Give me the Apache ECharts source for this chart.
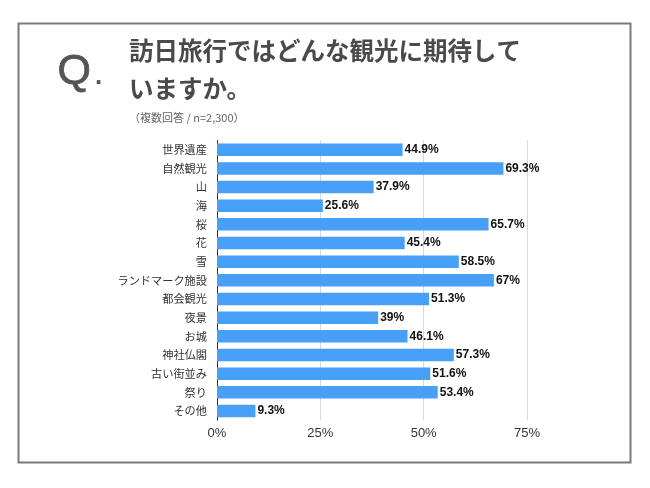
<!DOCTYPE html>
<html><head><meta charset="utf-8">
<script src="https://cdn.jsdelivr.net/npm/echarts@6/dist/echarts.min.js"></script>
<style>html,body{margin:0;padding:0;background:#fff}#c{width:650px;height:488px}</style>
</head><body><div id="c"></div>
<script>
var categories = ['世界遺産','自然観光','山','海','桜','花','雪','ランドマーク施設','都会観光','夜景','お城','神社仏閣','古い街並み','祭り','その他'];
var values = [44.9,69.3,37.9,25.6,65.7,45.4,58.5,67,51.3,39,46.1,57.3,51.6,53.4,9.3];
var xTicks = [0,25,50,75];
var titleLine1 = '訪日旅行ではどんな観光に期待して';
var titleLine2 = 'いますか。';
var subtitle = '（複数回答 / n=2,300）';

var chart = echarts.init(document.getElementById('c'), null, {renderer:'canvas'});
var cjk = '"Noto Sans CJK JP", "Noto Sans", sans-serif';
chart.setOption({
  animation:false,
  backgroundColor:'#fff',
  graphic:[
    {type:'rect', shape:{x:18.5,y:23.5,width:612,height:439}, style:{fill:'none', stroke:'#7a7a7a', lineWidth:2}},
    {type:'text', left:57, top:50, style:{text:'Q', fontSize:43, fontFamily:'"Liberation Sans", Arial, sans-serif', fill:'#555', stroke:'#555', lineWidth:0.8}},
    {type:'text', left:95, top:64, style:{text:'.', fontSize:26, fontWeight:'bold', fontFamily:'"Liberation Sans", Arial, sans-serif', fill:'#555'}},
    {type:'text', left:129, top:38, style:{text:titleLine1, fontSize:24.5, fontWeight:'bold', fontFamily:cjk, fill:'#4a4a4a'}},
    {type:'text', left:129, top:76, style:{text:titleLine2, fontSize:24.5, fontWeight:'bold', fontFamily:cjk, fill:'#4a4a4a'}},
    {type:'text', left:129, top:112, style:{text:subtitle, fontSize:11, fontFamily:cjk, fill:'#666'}}
  ],
  grid:{left:217, right:123, top:140.4, bottom:67.7, containLabel:false},
  xAxis:{
    type:'value', min:0, max:75, interval:25,
    axisLine:{show:false}, axisTick:{show:false},
    splitLine:{show:true, lineStyle:{color:'#d8d8d8', width:1}},
    axisLabel:{formatter:function(v){return xTicks.indexOf(v)>=0 ? v+'%' : '';}, color:'#333', fontSize:13, margin:7, fontFamily:'"Liberation Sans", Arial, sans-serif'}
  },
  yAxis:{
    type:'category', data:categories, inverse:true,
    axisLine:{show:true, lineStyle:{color:'#333', width:1}},
    axisTick:{show:false},
    axisLabel:{color:'#333', fontSize:11.2, margin:10, fontFamily:cjk}
  },
  series:[{
    type:'bar', data:values, barWidth:12.5,
    itemStyle:{color:'#47a0f6'},
    label:{show:true, position:'right', distance:2, formatter:function(p){return p.value+'%';}, color:'#111', fontSize:12, fontWeight:'bold', fontFamily:'"Liberation Sans", Arial, sans-serif'}
  }]
});
</script></body></html>
